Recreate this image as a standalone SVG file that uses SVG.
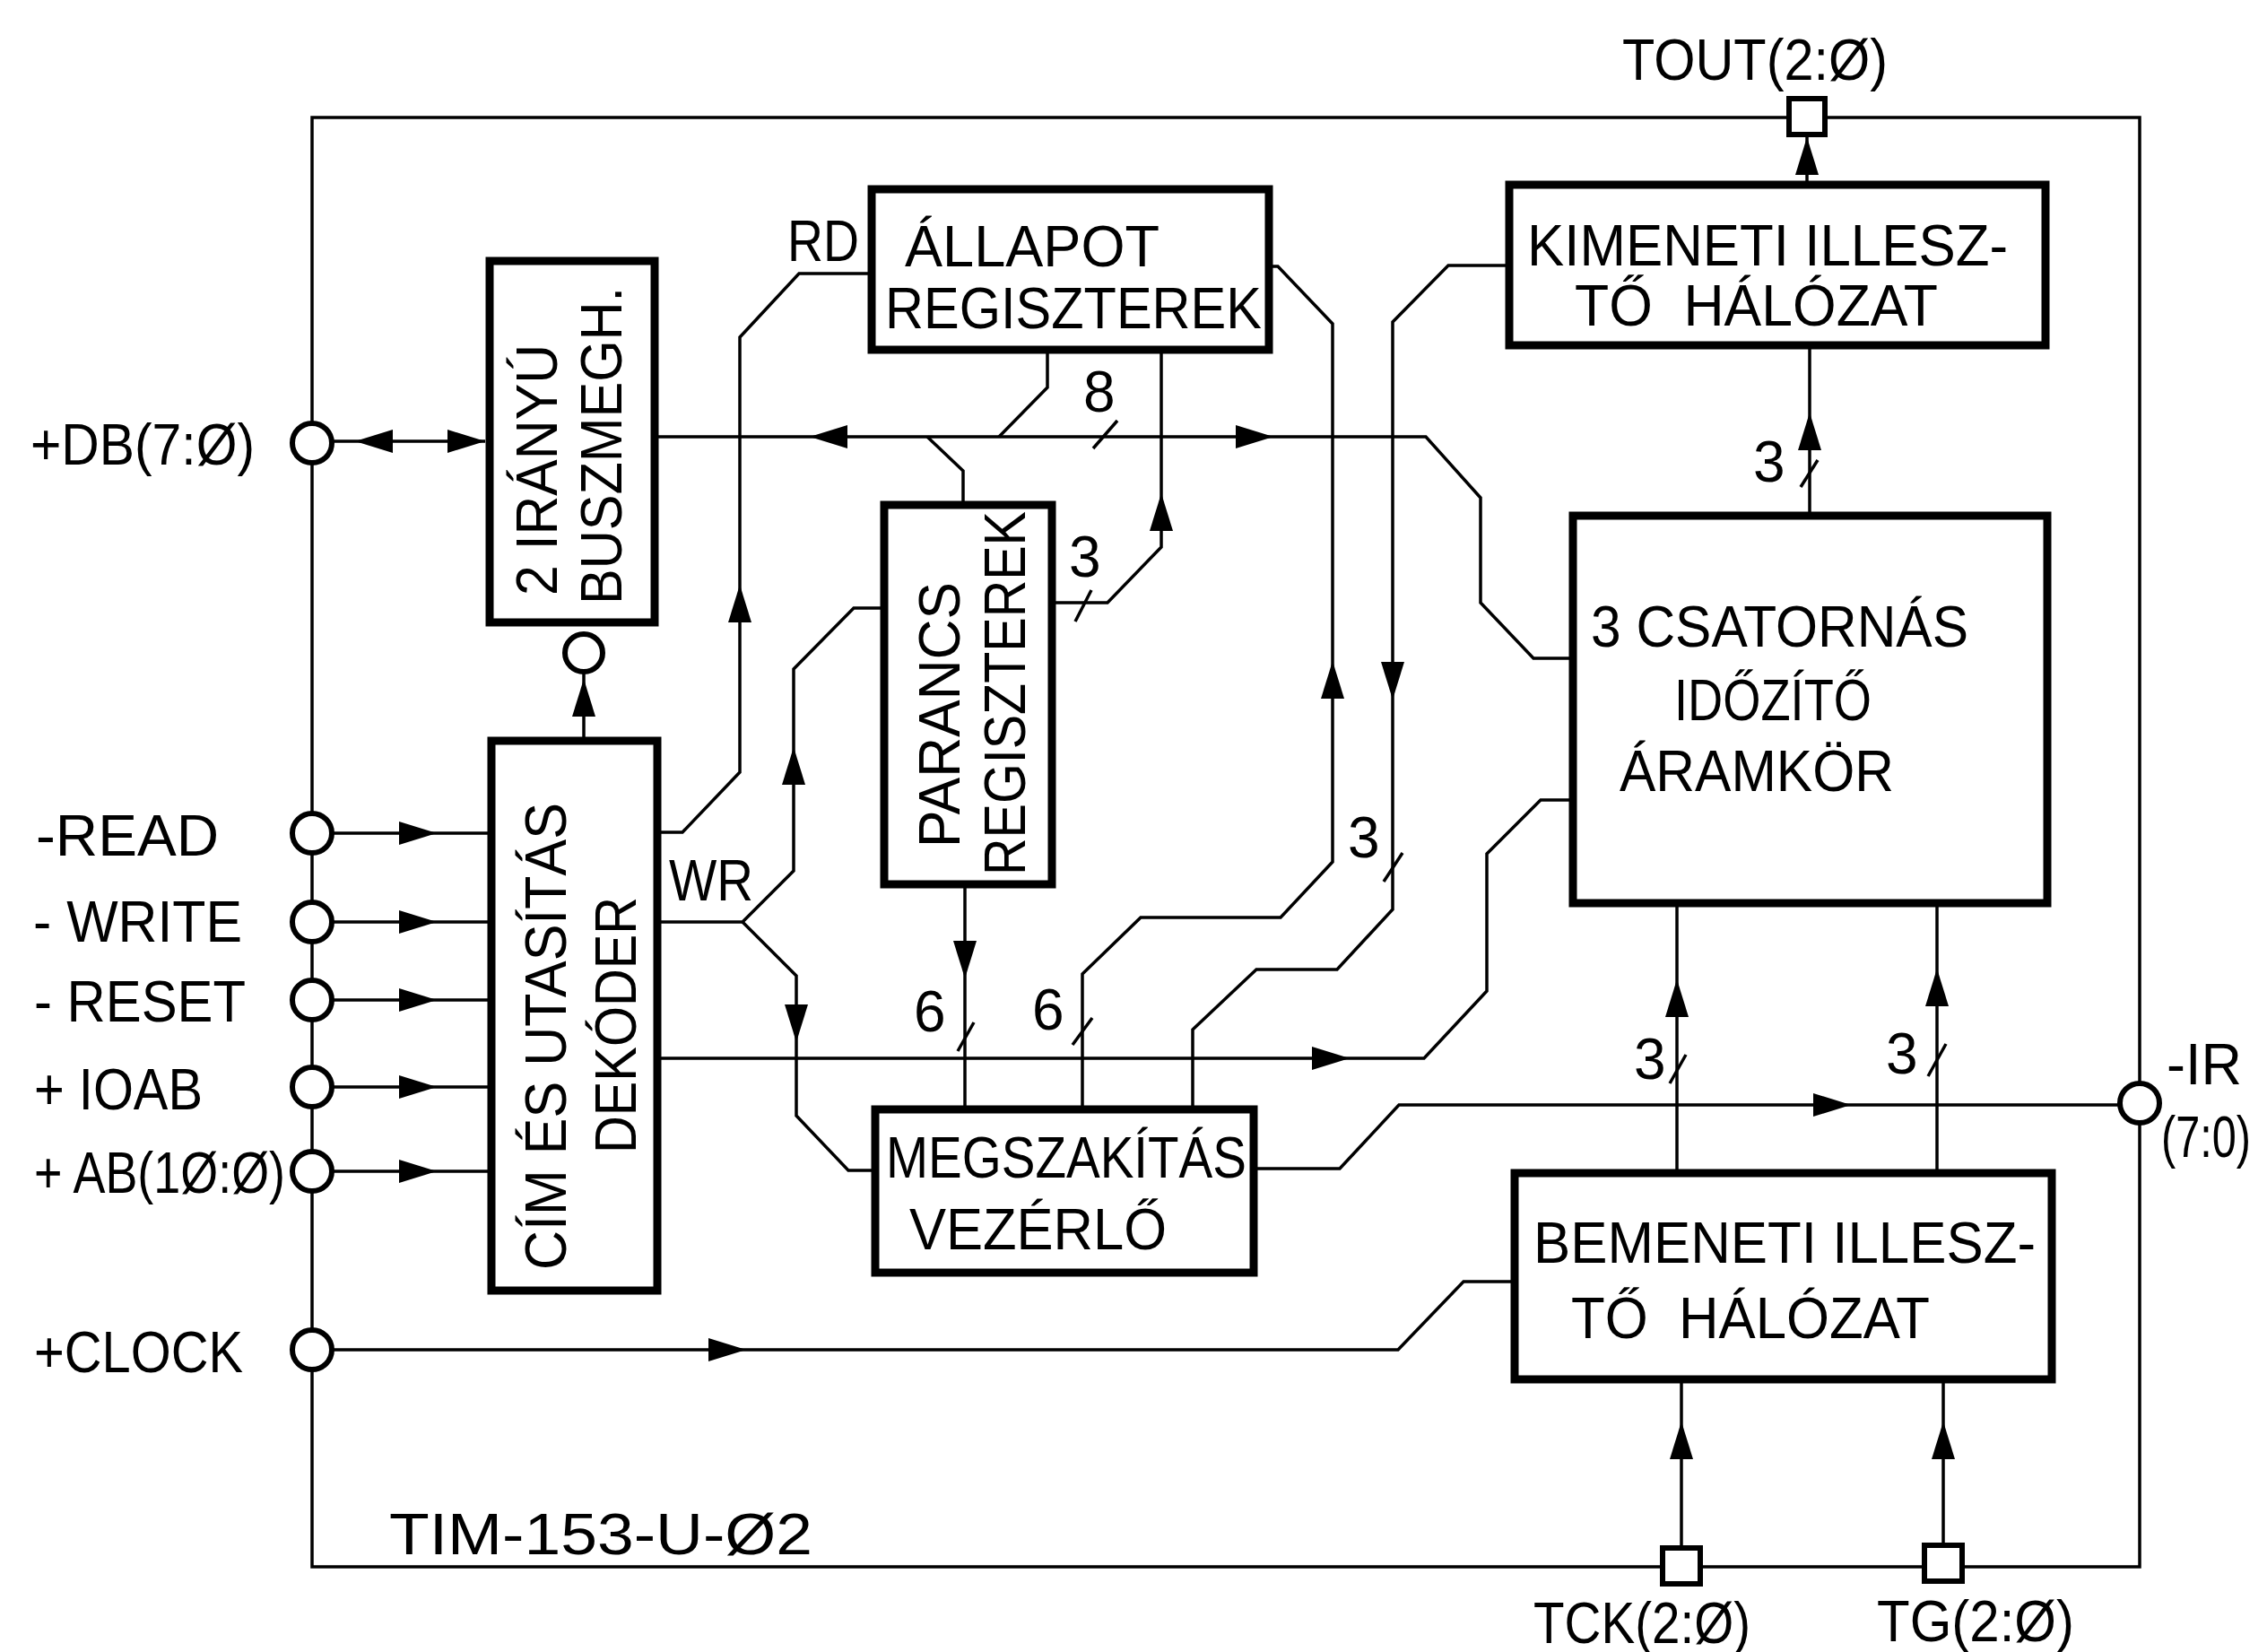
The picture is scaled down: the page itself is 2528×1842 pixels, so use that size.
<svg xmlns="http://www.w3.org/2000/svg" width="2528" height="1842" viewBox="0 0 2528 1842">
<style>
.box{fill:#fff;stroke:#000;stroke-width:9}
.ln{fill:none;stroke:#000;stroke-width:3.5;stroke-linejoin:miter}
.tk{fill:none;stroke:#000;stroke-width:3.5}
.pin{fill:#fff;stroke:#000;stroke-width:6}
.t{font-family:"Liberation Sans",Arial,sans-serif;font-size:64px;fill:#000}
.e{text-anchor:end}
</style>
<defs>
<path id="ah" d="M0,0 L-42,-13 L-42,13 Z" fill="#000"/>
</defs>
<rect width="2528" height="1842" fill="#fff"/>

<g id="connectors">
  <path class="ln" d="M348,131 H2386 V1747 H348 Z"/>
  <!-- DB -->
  <path class="ln" d="M370,492 H541"/>
  <use href="#ah" transform="translate(396,492) rotate(180)"/>
  <use href="#ah" transform="translate(541,492)"/>
  <!-- internal bus -->
  <path class="ln" d="M730,487 H1590 L1651,555 V672 L1710,734 H1754"/>
  <use href="#ah" transform="translate(903,487) rotate(180)"/>
  <use href="#ah" transform="translate(1420,487)"/>
  <path class="ln" d="M1168,390 V432 L1114,487"/>
  <path class="ln" d="M1034,487 L1074,525 V563"/>
  <path class="tk" d="M1219,500 L1246,469"/>
  <!-- allapot <- parancs 3 -->
  <path class="ln" d="M1295,390 V610 L1235,672 H1173"/>
  <use href="#ah" transform="translate(1295,550) rotate(-90)"/>
  <path class="tk" d="M1199,693 L1217,658"/>
  <!-- RD -->
  <path class="ln" d="M972,305 H891 L825,376 V861 L761,928 H733"/>
  <use href="#ah" transform="translate(825,652) rotate(-90)"/>
  <!-- WR -->
  <path class="ln" d="M733,1028 H828 L885,971 V746 L952,678 H986"/>
  <path class="ln" d="M828,1028 L888,1088 V1244 L946,1305 H976"/>
  <use href="#ah" transform="translate(885,833) rotate(-90)"/>
  <use href="#ah" transform="translate(888,1162) rotate(90)"/>
  <!-- decoder to bus driver -->
  <path class="ln" d="M651,826 V749"/>
  <use href="#ah" transform="translate(651,757) rotate(-90)"/>
  <!-- decoder to timer -->
  <path class="ln" d="M733,1180 H1588 L1658,1105 V952 L1718,892 H1754"/>
  <use href="#ah" transform="translate(1505,1180)"/>
  <!-- parancs to megsz -->
  <path class="ln" d="M1076,986 V1237"/>
  <use href="#ah" transform="translate(1076,1091) rotate(90)"/>
  <path class="tk" d="M1068,1172 L1086,1140"/>
  <!-- megsz to allapot -->
  <path class="ln" d="M1415,297 H1425 L1486,361 V961 L1428,1023 H1272 L1207,1086 V1237"/>
  <use href="#ah" transform="translate(1486,737) rotate(-90)"/>
  <path class="tk" d="M1196,1165 L1218,1135"/>
  <!-- kimeneti to megsz -->
  <path class="ln" d="M1683,296 H1615 L1553,359 V1014 L1491,1081 H1401 L1330,1148 V1237"/>
  <use href="#ah" transform="translate(1553,780) rotate(90)"/>
  <path class="tk" d="M1543,983 L1564,951"/>
  <!-- megsz to IR -->
  <path class="ln" d="M1398,1303 H1494 L1560,1232 H2366"/>
  <use href="#ah" transform="translate(2064,1232)"/>
  <!-- clock -->
  <path class="ln" d="M370,1505 H1559 L1632,1429 H1689"/>
  <use href="#ah" transform="translate(832,1505)"/>
  <!-- bemeneti to timer -->
  <path class="ln" d="M1870,1308 V1007"/>
  <use href="#ah" transform="translate(1870,1092) rotate(-90)"/>
  <path class="tk" d="M1862,1208 L1880,1176"/>
  <path class="ln" d="M2160,1308 V1007"/>
  <use href="#ah" transform="translate(2160,1080) rotate(-90)"/>
  <path class="tk" d="M2150,1200 L2170,1164"/>
  <!-- TCK / TG -->
  <path class="ln" d="M1875,1725 V1538"/>
  <use href="#ah" transform="translate(1875,1585) rotate(-90)"/>
  <path class="ln" d="M2167,1722 V1538"/>
  <use href="#ah" transform="translate(2167,1585) rotate(-90)"/>
  <!-- timer to kimeneti -->
  <path class="ln" d="M2018,575 V385"/>
  <use href="#ah" transform="translate(2018,460) rotate(-90)"/>
  <path class="tk" d="M2008,543 L2027,513"/>
  <!-- kimeneti to TOUT -->
  <path class="ln" d="M2015,206 V151"/>
  <use href="#ah" transform="translate(2015,153) rotate(-90)"/>
  <!-- inputs -->
  <path class="ln" d="M370,929 H548 M370,1028 H548 M370,1115 H548 M370,1212 H548 M370,1306 H548"/>
  <use href="#ah" transform="translate(487,929)"/>
  <use href="#ah" transform="translate(487,1028)"/>
  <use href="#ah" transform="translate(487,1115)"/>
  <use href="#ah" transform="translate(487,1212)"/>
  <use href="#ah" transform="translate(487,1306)"/>
</g>

<g id="pin-db"><circle class="pin" cx="348" cy="494" r="22"/><text class="t" x="34" y="518" textLength="250" lengthAdjust="spacingAndGlyphs">+DB(7:Ø)</text></g>
<g id="pin-read"><circle class="pin" cx="348" cy="929" r="22"/><text class="t" x="40" y="954" textLength="204" lengthAdjust="spacingAndGlyphs">-READ</text></g>
<g id="pin-write"><circle class="pin" cx="348" cy="1028" r="22"/><text class="t" x="37" y="1050" textLength="233" lengthAdjust="spacingAndGlyphs">- WRITE</text></g>
<g id="pin-reset"><circle class="pin" cx="348" cy="1115" r="22"/><text class="t" x="38" y="1139" textLength="236" lengthAdjust="spacingAndGlyphs">- RESET</text></g>
<g id="pin-ioab"><circle class="pin" cx="348" cy="1212" r="22"/><text class="t" x="38" y="1237" textLength="188" lengthAdjust="spacingAndGlyphs">+ IOAB</text></g>
<g id="pin-ab"><circle class="pin" cx="348" cy="1306" r="22"/><text class="t" x="38" y="1330" textLength="280" lengthAdjust="spacingAndGlyphs">+ AB(1Ø:Ø)</text></g>
<g id="pin-clock"><circle class="pin" cx="348" cy="1505" r="22"/><text class="t" x="38" y="1530" textLength="233" lengthAdjust="spacingAndGlyphs">+CLOCK</text></g>
<g id="pin-ir"><circle class="pin" cx="2386" cy="1230" r="22"/><text class="t e" x="2500" y="1209" textLength="84" lengthAdjust="spacingAndGlyphs">-IR</text><text class="t e" x="2510" y="1290" font-size="56" textLength="100" lengthAdjust="spacingAndGlyphs">(7:0)</text></g>
<g id="pin-tout"><rect class="pin" x="1995" y="110" width="40" height="40"/><text class="t" x="1809" y="89" textLength="296" lengthAdjust="spacingAndGlyphs">TOUT(2:Ø)</text></g>
<g id="pin-tck"><rect class="pin" x="1854" y="1726" width="42" height="40"/><text class="t" x="1710" y="1832" textLength="242" lengthAdjust="spacingAndGlyphs">TCK(2:Ø)</text></g>
<g id="pin-tg"><rect class="pin" x="2146" y="1723" width="42" height="40"/><text class="t" x="2093" y="1830" textLength="220" lengthAdjust="spacingAndGlyphs">TG(2:Ø)</text></g>
<g id="bus-enable"><circle class="pin" cx="651" cy="728" r="21"/></g>

<g id="buszmegh">
  <rect class="box" x="546" y="291" width="184" height="403"/>
  <text class="t" transform="translate(621,664) rotate(-90)" textLength="280" lengthAdjust="spacingAndGlyphs">2 IRÁNYÚ</text>
  <text class="t" transform="translate(693,674) rotate(-90)" textLength="354" lengthAdjust="spacingAndGlyphs">BUSZMEGH.</text>
</g>
<g id="dekoder">
  <rect class="box" x="548" y="826" width="185" height="613"/>
  <text class="t" transform="translate(631,1416) rotate(-90)" textLength="521" lengthAdjust="spacingAndGlyphs">CÍM ÉS UTASÍTÁS</text>
  <text class="t" transform="translate(709,1286) rotate(-90)" textLength="286" lengthAdjust="spacingAndGlyphs">DEKÓDER</text>
</g>
<g id="allapot">
  <rect class="box" x="972" y="211" width="443" height="179"/>
  <text class="t" x="1009" y="297" textLength="284" lengthAdjust="spacingAndGlyphs">ÁLLAPOT</text>
  <text class="t" x="987" y="366" textLength="420" lengthAdjust="spacingAndGlyphs">REGISZTEREK</text>
</g>
<g id="parancs">
  <rect class="box" x="986" y="563" width="187" height="423"/>
  <text class="t" transform="translate(1070,945) rotate(-90)" textLength="296" lengthAdjust="spacingAndGlyphs">PARANCS</text>
  <text class="t" transform="translate(1143,976) rotate(-90)" textLength="406" lengthAdjust="spacingAndGlyphs">REGISZTEREK</text>
</g>
<g id="megszakitas">
  <rect class="box" x="976" y="1237" width="422" height="182"/>
  <text class="t" x="988" y="1313" textLength="402" lengthAdjust="spacingAndGlyphs">MEGSZAKÍTÁS</text>
  <text class="t" x="1014" y="1393" textLength="287" lengthAdjust="spacingAndGlyphs">VEZÉRLŐ</text>
</g>
<g id="kimeneti">
  <rect class="box" x="1683" y="206" width="598" height="179"/>
  <text class="t" x="1703" y="296" textLength="536" lengthAdjust="spacingAndGlyphs">KIMENETI ILLESZ-</text>
  <text class="t" x="1756" y="363" textLength="405" lengthAdjust="spacingAndGlyphs" xml:space="preserve">TŐ  HÁLÓZAT</text>
</g>
<g id="idozito">
  <rect class="box" x="1754" y="575" width="529" height="432"/>
  <text class="t" x="1774" y="721" textLength="421" lengthAdjust="spacingAndGlyphs">3 CSATORNÁS</text>
  <text class="t" x="1867" y="803" textLength="220" lengthAdjust="spacingAndGlyphs">IDŐZÍTŐ</text>
  <text class="t" x="1806" y="882" textLength="306" lengthAdjust="spacingAndGlyphs">ÁRAMKÖR</text>
</g>
<g id="bemeneti">
  <rect class="box" x="1689" y="1308" width="599" height="230"/>
  <text class="t" x="1710" y="1408" textLength="560" lengthAdjust="spacingAndGlyphs">BEMENETI ILLESZ-</text>
  <text class="t" x="1752" y="1492" textLength="400" lengthAdjust="spacingAndGlyphs" xml:space="preserve">TŐ  HÁLÓZAT</text>
</g>

<g id="labels">
  <text class="t" x="878" y="291" textLength="80" lengthAdjust="spacingAndGlyphs">RD</text>
  <text class="t" x="746" y="1004" textLength="94" lengthAdjust="spacingAndGlyphs">WR</text>
  <text class="t" x="1208" y="459">8</text>
  <text class="t" x="1192" y="643">3</text>
  <text class="t" x="1955" y="537">3</text>
  <text class="t" x="1503" y="956">3</text>
  <text class="t" x="1019" y="1150">6</text>
  <text class="t" x="1151" y="1148">6</text>
  <text class="t" x="1822" y="1203">3</text>
  <text class="t" x="2103" y="1197">3</text>
  <text class="t" x="434" y="1733" textLength="472" lengthAdjust="spacingAndGlyphs">TIM-153-U-Ø2</text>
</g>
</svg>
